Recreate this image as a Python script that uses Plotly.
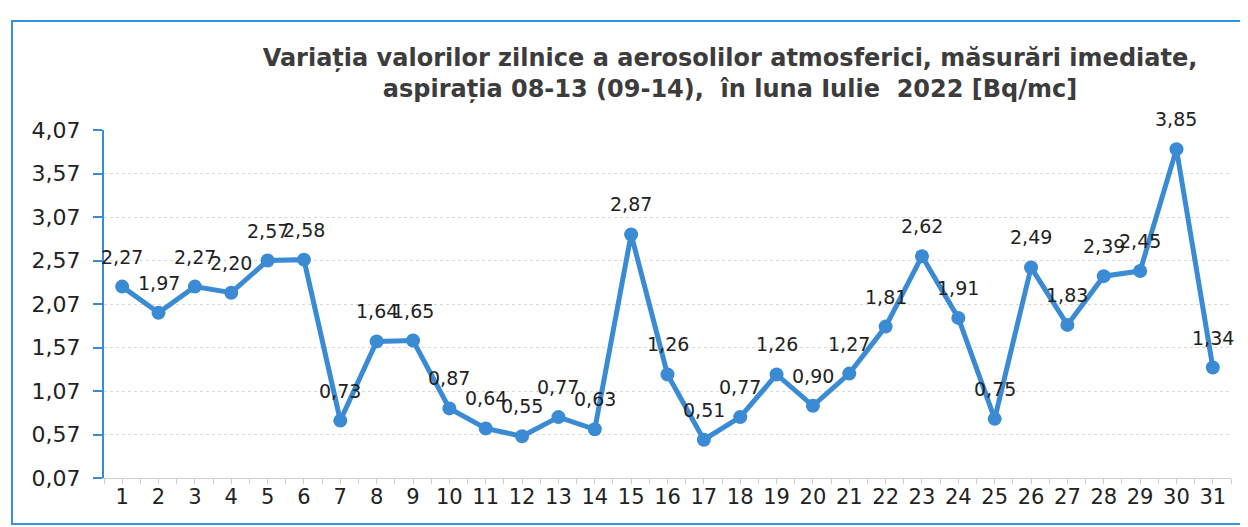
import plotly.graph_objects as go

# daily values, July 2022 [Bq/mc]
days = list(range(1, 32))
values = [2.27, 1.97, 2.27, 2.20, 2.57, 2.58, 0.73, 1.64, 1.65, 0.87,
          0.64, 0.55, 0.77, 0.63, 2.87, 1.26, 0.51, 0.77, 1.26, 0.90,
          1.27, 1.81, 2.62, 1.91, 0.75, 2.49, 1.83, 2.39, 2.45, 3.85, 1.34]
y_ticks = [0.07, 0.57, 1.07, 1.57, 2.07, 2.57, 3.07, 3.57, 4.07]

TITLE = ("Variația valorilor zilnice a aerosolilor atmosferici, măsurări imediate,<br>"
         "aspirația 08-13 (09-14),  în luna Iulie  2022 [Bq/mc]")

BLUE = "#3a8bd3"
FONT = "DejaVu Sans, Liberation Sans, Arial, sans-serif"

fig = go.Figure(
    go.Scatter(
        x=days,
        y=values,
        mode="lines+markers",
        line=dict(color=BLUE, width=5),
        marker=dict(color=BLUE, size=14),
        hoverinfo="x+y",
    )
)

# data labels sit centred above each point, overlaps kept as in the original
for d, v in zip(days, values):
    fig.add_annotation(
        x=d, y=v, xref="x", yref="y",
        text=f"{v:.2f}".replace(".", ","),
        showarrow=False, yshift=30,
        font=dict(size=19, color="#222222", family=FONT),
    )

# the page adds an 8px body margin, so the figure is sized to fit the window
W, H = 1240, 519
L, R, T, B = 96, 17, 122, 49
pw, ph = W - L - R, H - T - B

# chart frame (scanned Excel border)
fig.add_shape(
    type="rect", xref="paper", yref="paper",
    x0=(4 - L) / pw, x1=(1260 - L) / pw,
    y0=(H - B - 516) / ph, y1=(H - B - 13) / ph,
    line=dict(color="#3393e0", width=2),
)

fig.update_xaxes(
    range=[0.5, 31.5],
    tickvals=days,
    ticks="",
    showgrid=False,
    showline=True, linecolor="#d0d0d0", linewidth=1,
    tickfont=dict(size=21, color="#222222", family=FONT),
    minor=dict(ticks="outside", ticklen=5, tickcolor="#cccccc", dtick=0.5, tick0=0.5),
    zeroline=False,
)
fig.update_yaxes(
    range=[0.07, 4.07],
    tickvals=y_ticks,
    tickformat=".2f",
    ticks="outside", ticklen=9, tickcolor=BLUE, tickwidth=2,
    ticklabelstandoff=8,
    showline=True, linecolor=BLUE, linewidth=2,
    showgrid=True, gridcolor="#d9d9d9", griddash="dot", gridwidth=1,
    tickfont=dict(size=22, color="#222222", family=FONT),
    zeroline=False,
)

fig.update_layout(
    width=W, height=H,
    margin=dict(l=L, r=R, t=T, b=B),
    separators=",.",
    plot_bgcolor="white",
    paper_bgcolor="white",
    showlegend=False,
    title=dict(
        text=f"<b>{TITLE}</b>",
        x=722 / W, xref="container", xanchor="center",
        y=1 - 58 / H, yref="container", yanchor="middle",
        font=dict(size=24, color="#3c3c3c", family=FONT),
    ),
)

fig.write_html("out.html")
